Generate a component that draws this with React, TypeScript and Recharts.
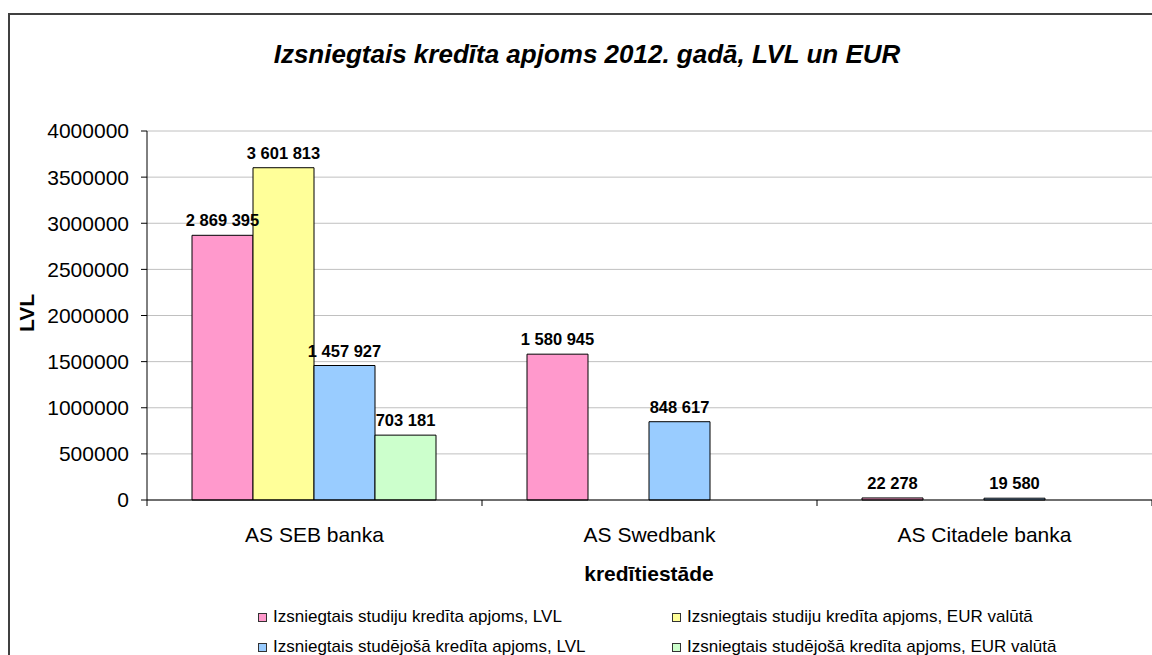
import React from 'react';
import { BarChart, Bar, XAxis, YAxis, CartesianGrid, LabelList } from 'recharts';

const categories = ['AS SEB banka', 'AS Swedbank', 'AS Citadele banka'];
const studijuLVL = [2869395, 1580945, 22278];
const studijuEUR = [3601813, null, null];
const studejosaLVL = [1457927, 848617, 19580];
const studejosaEUR = [703181, null, null];
const yTicks = [0, 500000, 1000000, 1500000, 2000000, 2500000, 3000000, 3500000, 4000000];

const series = [
  { key: 'studijuLVL', name: 'Izsniegtais studiju kredīta apjoms, LVL', color: '#FF99CC' },
  { key: 'studijuEUR', name: 'Izsniegtais studiju kredīta apjoms, EUR valūtā', color: '#FFFF99' },
  { key: 'studejosaLVL', name: 'Izsniegtais studējošā kredīta apjoms, LVL', color: '#99CCFF' },
  { key: 'studejosaEUR', name: 'Izsniegtais studējošā kredīta apjoms, EUR valūtā', color: '#CCFFCC' },
];

const data = categories.map((name, i) => ({
  name,
  studijuLVL: studijuLVL[i],
  studijuEUR: studijuEUR[i],
  studejosaLVL: studejosaLVL[i],
  studejosaEUR: studejosaEUR[i],
}));

const FONT = '"Liberation Sans", Arial, sans-serif';
const W = 1152;
const H = 655;
const PLOT_LEFT = 147;
const Y_AXIS_W = 100;
const X_AXIS_H = 30;

// thousands with spaces, e.g. 2 869 395
const fmt = (v: any) => (v == null ? '' : String(v).replace(/\B(?=(\d{3})+(?!\d))/g, ' '));

const band = (W - PLOT_LEFT) / categories.length;

// category label + boundary tick (Excel puts ticks between categories)
const CategoryTick = (props: any) => {
  const { x, y, payload, index } = props;
  return (
    <g>
      <line x1={x - band / 2} y1={y} x2={x - band / 2} y2={y + 6} stroke="#000" />
      {index === categories.length - 1 && (
        <line x1={x + band / 2} y1={y} x2={x + band / 2} y2={y + 6} stroke="#000" />
      )}
      <text x={x} y={y + 42} textAnchor="middle" fontSize={21} fontFamily={FONT} fill="#000">
        {payload.value}
      </text>
    </g>
  );
};

// value label above the bar, on one line
const ValueLabel = (props: any) => {
  const { x, y, width, value } = props;
  if (value == null) return null;
  return (
    <text x={x + width / 2} y={y - 9} textAnchor="middle" fontSize={16.5} fontWeight="bold" fontFamily={FONT} fill="#000">
      {fmt(value)}
    </text>
  );
};

export default function App() {
  return (
    <div style={{ position: 'fixed', left: 0, top: 0, width: W, height: H, overflow: 'hidden', background: '#fff', fontFamily: FONT }}>
      <div style={{ position: 'absolute', left: 8, top: 13, width: 1300, height: 800, borderLeft: '2px solid #404040', borderTop: '2px solid #404040' }} />
      <div style={{ position: 'absolute', left: 0, top: 39, width: 1174, textAlign: 'center', fontSize: 26, fontWeight: 'bold', fontStyle: 'italic' }}>
        Izsniegtais kredīta apjoms 2012. gadā, LVL un EUR
      </div>
      <div style={{ position: 'absolute', left: 27, top: 313, transform: 'translate(-50%, -50%) rotate(-90deg)', fontSize: 21, fontWeight: 'bold', whiteSpace: 'nowrap' }}>
        LVL
      </div>
      <div style={{ position: 'absolute', left: 0, top: 562, width: 1298, textAlign: 'center', fontSize: 21, fontWeight: 'bold' }}>
        kredītiestāde
      </div>
      <BarChart
        width={W}
        height={H}
        data={data}
        margin={{ top: 131, right: 0, bottom: 155 - X_AXIS_H, left: PLOT_LEFT - Y_AXIS_W }}
        barCategoryGap={45}
        barGap={0}
        style={{ position: 'absolute', left: 0, top: 0 }}
      >
        <CartesianGrid vertical={false} stroke="#C0C0C0" />
        <XAxis
          dataKey="name"
          height={X_AXIS_H}
          axisLine={{ stroke: '#000' }}
          tickLine={false}
          tickSize={0}
          tickMargin={0}
          tick={<CategoryTick />}
          interval={0}
        />
        <YAxis
          width={Y_AXIS_W}
          domain={[0, 4000000]}
          ticks={yTicks}
          interval={0}
          axisLine={{ stroke: '#000' }}
          tickLine={{ stroke: '#000' }}
          tickSize={6}
          tickMargin={12}
          tick={{ fill: '#000', fontSize: 21, fontFamily: FONT }}
        />
        {series.map((s) => (
          <Bar key={s.key} dataKey={s.key} name={s.name} fill={s.color} stroke="#000" strokeWidth={1} isAnimationActive={false}>
            <LabelList dataKey={s.key} content={<ValueLabel />} />
          </Bar>
        ))}
      </BarChart>
      <div style={{ position: 'absolute', left: 258, top: 607, display: 'grid', gridTemplateColumns: '414px 414px', rowGap: 10, fontSize: 17 }}>
        {series.map((s) => (
          <div key={s.key} style={{ display: 'flex', alignItems: 'center', height: 20, whiteSpace: 'nowrap' }}>
            <span style={{ width: 7, height: 7, background: s.color, border: '1px solid #333', marginRight: 6, flexShrink: 0 }} />
            <span>{s.name}</span>
          </div>
        ))}
      </div>
    </div>
  );
}
